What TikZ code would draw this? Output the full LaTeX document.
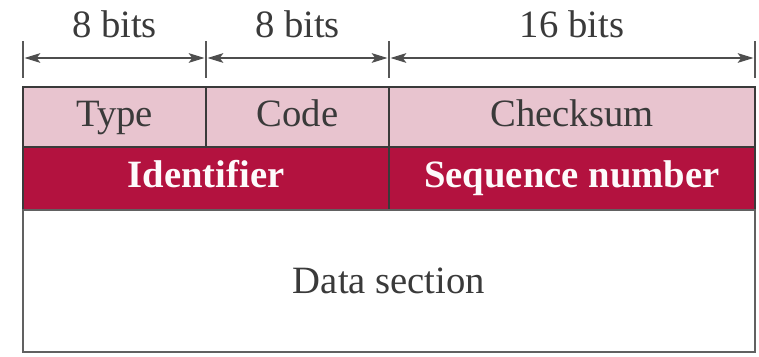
\documentclass[tikz,border=0pt]{standalone}
\usepackage{fontspec}
\setmainfont{Liberation Serif}
\usepackage{tikz}
\usetikzlibrary{positioning, arrows.meta, calc}
\definecolor{myPink}{HTML}{E8C4CF}
\definecolor{myCrimson}{HTML}{B3123F}
\definecolor{myInk}{HTML}{3A3A3A}
\usepackage{xcolor}

\begin{document}
\begin{tikzpicture}[
  cell/.style={draw=myInk, line width=0.8pt, fill=myPink, text=myInk,
               minimum height=1.2cm, inner sep=0pt,
               text height=15pt, text depth=4.5pt,
               font=\fontsize{22}{26}\selectfont},
  idcell/.style={cell, fill=myCrimson, text=white!92!myPink,
                 minimum height=1.26cm,
                 font=\fontsize{22}{26}\selectfont\bfseries},
  datacell/.style={draw=myInk!80, line width=0.9pt, fill=white, text=myInk,
                   minimum width=14.64cm, minimum height=2.84cm,
                   font=\fontsize{22}{26}\selectfont},
  dim/.style={{Stealth[length=9pt, width=5.5pt, inset=2pt]}-{Stealth[length=9pt, width=5.5pt, inset=2pt]},
              line width=0.9pt, myInk!90},
  tick/.style={line width=0.8pt, myInk!85},
  lbl/.style={font=\fontsize{22}{26}\selectfont, text=myInk,
              text height=15pt, text depth=4.5pt}
]
\useasboundingbox (0,0) rectangle (15.18,7.12);

% header rows
\node[cell, minimum width=3.66cm] (type)     at (2.29,4.78)  {Type};
\node[cell, minimum width=3.66cm] (code)     at (5.95,4.78)  {Code};
\node[cell, minimum width=7.32cm] (checksum) at (11.44,4.78) {Checksum};
\node[idcell, minimum width=7.32cm] (ident)  at (4.12,3.55)  {Identifier};
\node[idcell, minimum width=7.32cm] (seqnum) at (11.44,3.55) {Sequence number};
\node[datacell] (data) at (7.78,1.50) {Data section};

% field widths
\foreach \x/\n in {0.46/t0, 4.12/t1, 7.78/t2, 15.10/t3} {
  \coordinate (\n) at (\x,5.96);
  \draw[tick] (\x,6.30) -- (\x,5.56);
}
\draw[dim] ($(t0)+(0.03,0)$) -- node[lbl, above=0.12cm] (w1) {8 bits} ($(t1)+(-0.03,0)$);
\draw[dim] ($(t1)+(0.03,0)$) -- node[lbl, above=0.12cm] (w2) {8 bits} ($(t2)+(-0.03,0)$);
\draw[dim] ($(t2)+(0.03,0)$) -- node[lbl, above=0.12cm] (w3) {16 bits} ($(t3)+(-0.03,0)$);
\end{tikzpicture}
\end{document}
